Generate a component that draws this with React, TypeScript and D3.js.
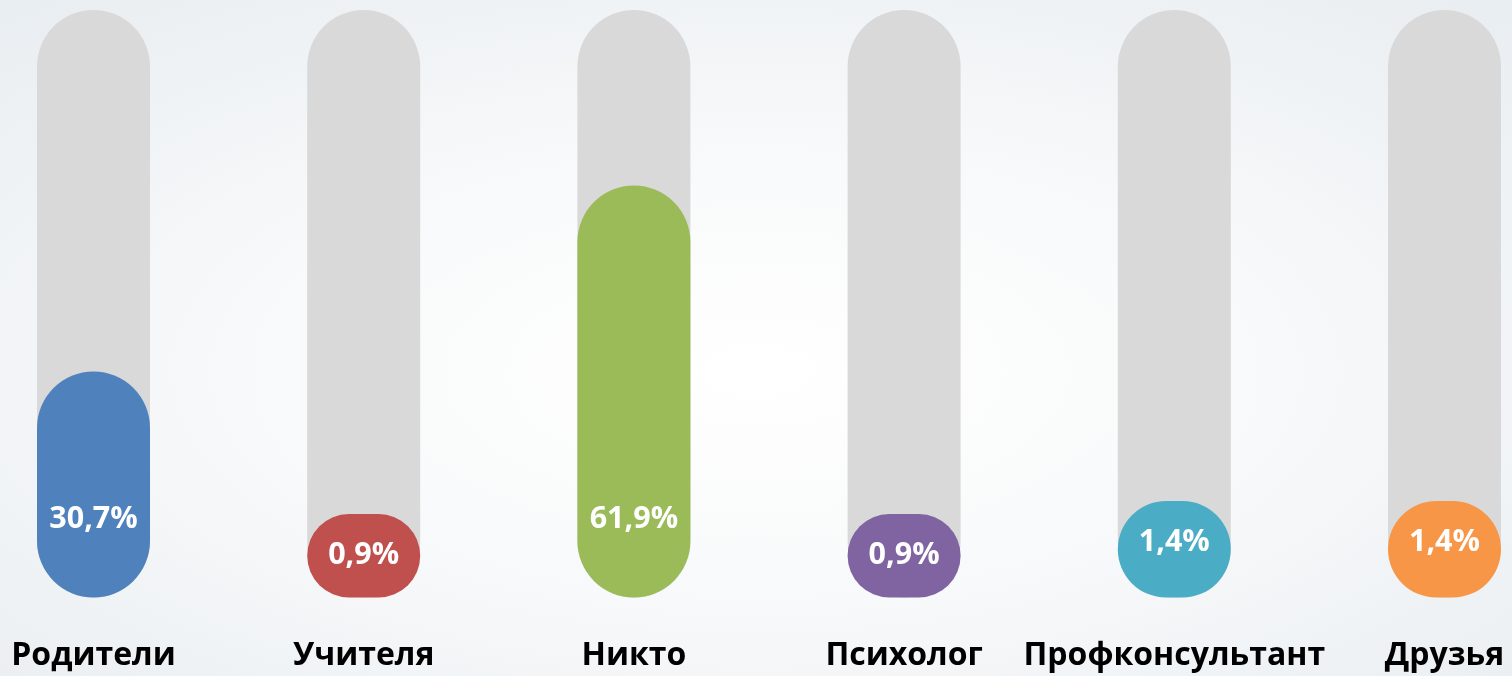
import React from "react";
import * as d3 from "d3";

const categories: string[] = ["Родители", "Учителя", "Никто", "Психолог", "Профконсультант", "Друзья"];
const values: number[] = [30.7, 0.9, 61.9, 0.9, 1.4, 1.4];
const valueLabels: string[] = ["30,7%", "0,9%", "61,9%", "0,9%", "1,4%", "1,4%"];
const colors: string[] = ["#4f81bd", "#c0504d", "#9bbb59", "#8064a2", "#4bacc6", "#f79646"];

const W = 1512;
const H = 676;
const BAR_W = 113;
const TRACK_TOP = 10;
const TRACK_BOTTOM = 597.5;

export default function App() {
  const x = d3.scalePoint<string>().domain(categories).range([93.5, 1444.5]);
  const h = d3
    .scaleLinear()
    .domain([0, d3.max(values) as number])
    .range([43, 412]);
  // minimum pill height so that small values still show their label
  const hMin = d3.scaleLinear().domain([0, 2]).range([60, 112]).clamp(true);

  const font = "'Open Sans', 'Noto Sans', sans-serif";

  return (
    <div style={{ position: "fixed", left: 0, top: 0, width: W, height: H }}>
      <svg width={W} height={H} style={{ display: "block" }}>
        <defs>
          <radialGradient id="bg" cx="50%" cy="55%" r="75%">
            <stop offset="0%" stopColor="#ffffff" />
            <stop offset="45%" stopColor="#f8f9fa" />
            <stop offset="100%" stopColor="#e8edf1" />
          </radialGradient>
        </defs>
        <rect x={0} y={0} width={W} height={H} fill="url(#bg)" />
        {categories.map((c, i) => {
          const cx = x(c) as number;
          const bh = Math.max(hMin(values[i]), h(values[i]));
          const top = TRACK_BOTTOM - bh;
          const r = Math.min(BAR_W, bh) / 2;
          const labelY = bh > 150 ? TRACK_BOTTOM - 70 : top + 50;
          return (
            <g key={c}>
              <rect
                x={cx - BAR_W / 2}
                y={TRACK_TOP}
                width={BAR_W}
                height={TRACK_BOTTOM - TRACK_TOP}
                rx={BAR_W / 2}
                ry={BAR_W / 2}
                fill="#d9d9d9"
              />
              <rect
                x={cx - BAR_W / 2}
                y={top}
                width={BAR_W}
                height={bh}
                rx={r}
                ry={r}
                fill={colors[i]}
              />
              <text
                x={cx}
                y={labelY}
                textAnchor="middle"
                fill="#ffffff"
                fontFamily={font}
                fontWeight={700}
                fontSize={30.5}
              >
                {valueLabels[i]}
              </text>
              <text
                x={cx}
                y={665}
                textAnchor="middle"
                fill="#000000"
                fontFamily={font}
                fontWeight={700}
                fontSize={32}
              >
                {c}
              </text>
            </g>
          );
        })}
      </svg>
    </div>
  );
}
